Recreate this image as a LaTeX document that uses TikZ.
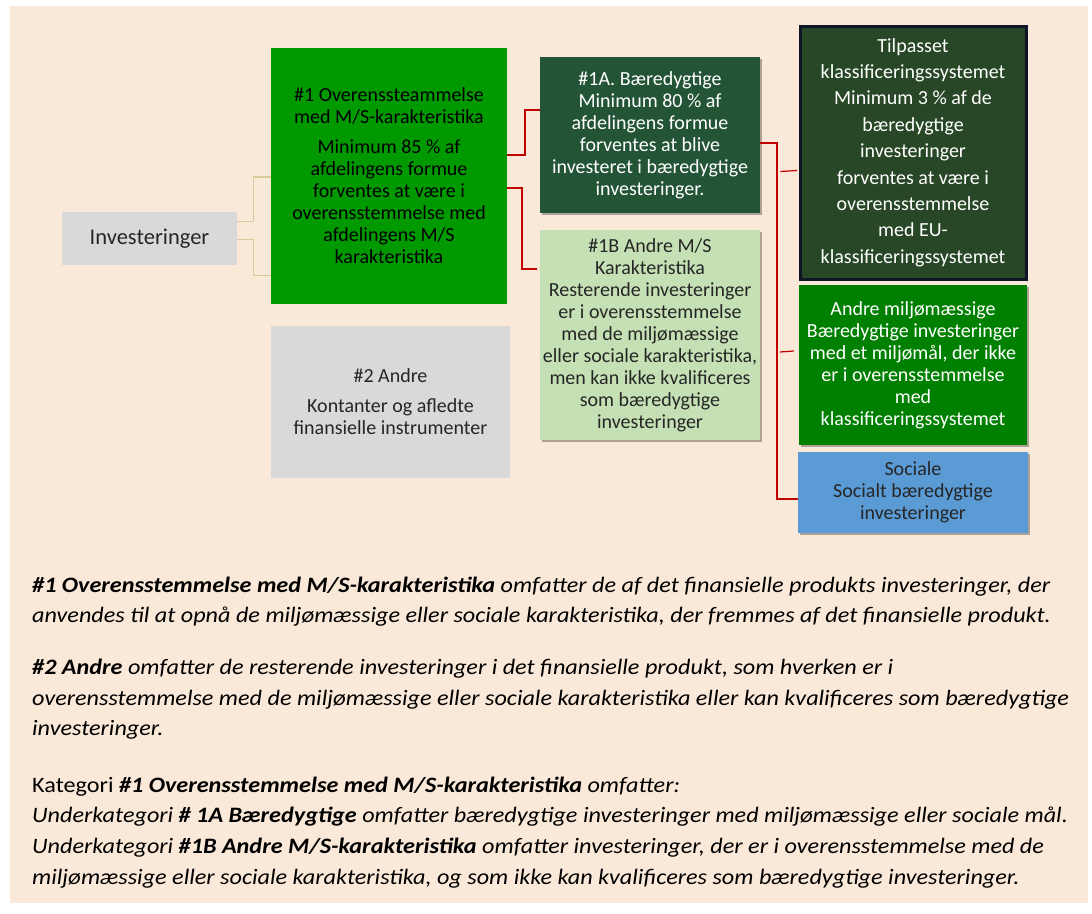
\documentclass[tikz,border=0pt]{standalone}
\usepackage{fontspec}
\setmainfont{Carlito}
\newfontfamily\parafont[FakeStretch=1.1]{Carlito}
\usetikzlibrary{calc,shadows}
\definecolor{beige}{HTML}{FAE8D8}
\definecolor{grayb}{HTML}{D9D9D9}
\definecolor{greenA}{HTML}{009900}
\definecolor{darkA}{HTML}{245436}
\definecolor{lightB}{HTML}{C5E0B4}
\definecolor{tilp}{HTML}{284726}
\definecolor{tilpborder}{HTML}{0D1526}
\definecolor{greenC}{HTML}{008000}
\definecolor{socblue}{HTML}{5B9BD5}
\definecolor{tanline}{HTML}{D8CB9A}
\definecolor{redline}{HTML}{C00000}
\definecolor{darktext}{HTML}{262626}
\newcommand\bitxt[1]{\textbf{\textit{#1}}}
\begin{document}
\begin{tikzpicture}[x=1pt,y=-1pt,
  box/.style={draw=none, rectangle, inner sep=0pt, align=center, font=\fontsize{20}{22}\selectfont},
  shad/.style={drop shadow={shadow xshift=1.5pt, shadow yshift=-2pt, opacity=0.3, fill=black}},
  tanl/.style={draw=tanline, line width=1.2pt},
  redl/.style={draw=redline, line width=1.5pt},
  para/.style={anchor=base west, inner sep=0pt, font=\parafont\fontsize{22}{26}\selectfont, text=black}
]
\useasboundingbox (0,0) rectangle (1092,913);
\fill[white] (0,0) rectangle (1092,913);
\fill[beige] (10,6) rectangle (1088,903);

% boxes
\node[box, fill=grayb, minimum width=175pt, minimum height=53pt, text=darktext,
  font=\fontsize{22.5}{24}\selectfont] (inv) at (149.5,238.5) {Investeringer};

\node[box, fill=greenA, minimum width=236pt, minimum height=256pt, text=black] (b1) at (389,176)
 {\#1 Overenssteammelse\\ med M/S-karakteristika\\[8pt] Minimum 85 \% af\\ afdelingens formue\\ forventes at være i\\ overensstemmelse med\\ afdelingens M/S\\ karakteristika};

\node[box, fill=grayb, minimum width=239pt, minimum height=152pt, text=darktext] (b2) at (390.5,402)
 {\#2 Andre\\[8pt] Kontanter og afledte\\ finansielle instrumenter};

\node[box, shad, fill=darkA, minimum width=220pt, minimum height=156pt, text=white] (b1a) at (650,135)
 {\#1A. Bæredygtige\\ Minimum 80 \% af\\ afdelingens formue\\ forventes at blive\\ investeret i bæredygtige\\ investeringer.};

\node[box, shad, fill=lightB, minimum width=220pt, minimum height=210pt, text=darktext] (b1b) at (650,335)
 {\#1B Andre M/S\\ Karakteristika\\ Resterende investeringer\\ er i overensstemmelse\\ med de miljømæssige\\ eller sociale karakteristika,\\ men kan ikke kvalificeres\\ som bæredygtige\\ investeringer};

\node[box, fill=tilp, draw=tilpborder, line width=3pt, minimum width=226pt, minimum height=253pt, text=white,
  font=\fontsize{20}{26.4}\selectfont] (tilp) at (913,152.5)
 {Tilpasset\\ klassificeringssystemet\\ Minimum 3 \% af de\\ bæredygtige\\ investeringer\\ forventes at være i\\ overensstemmelse\\ med EU-\\ klassificeringssystemet};

\node[box, shad, fill=greenC, minimum width=228pt, minimum height=160pt, text=white] (andre) at (913,365)
 {Andre miljømæssige\\ Bæredygtige investeringer\\ med et miljømål, der ikke\\ er i overensstemmelse\\ med\\ klassificeringssystemet};

\node[box, shad, fill=socblue, minimum width=230pt, minimum height=81pt, text=darktext] (soc) at (913,492.5)
 {Sociale\\ Socialt bæredygtige\\ investeringer};

% connectors
\draw[tanl] ($(inv.north east)+(0,10)$) -- ++(16,0) |- ($(b1.west)+(0,1)$);
\draw[tanl] ($(inv.east)+(0,1)$) -- ++(16,0) |- ($(b1.south west)+(0,-29)$);

\draw[redl] ($(b1.east)+(0,-21)$) -- ++(18,0) |- ($(b1a.west)+(0,-25)$);
\draw[redl] ($(b1.east)+(0,12)$) -- ++(15,0) |- ($(b1b.west)+(-3,-66)$);
\draw[redl] ($(b1a.east)+(0,8)$) -- ++(17,0) |- ($(soc.west)+(0,6.5)$);
\draw[redline, line width=1.2pt] ($(tilp.west)+(-18,19)$) -- ($(tilp.west)+(-1.5,18)$);
\draw[redline, line width=1.2pt] ($(andre.west)+(-19,-13)$) -- ($(andre.west)+(-5,-14)$);

% paragraphs
\node[para] (p1a) at (32,592) {\bitxt{\#1 Overensstemmelse med M/S-karakteristika} \textit{omfatter de af det finansielle produkts investeringer, der}};
\node[para] (p1b) at (32,622.5) {\textit{anvendes til at opnå de miljømæssige eller sociale karakteristika, der fremmes af det finansielle produkt.}};

\node[para] (p2a) at (32,674.5) {\bitxt{\#2 Andre} \textit{omfatter de resterende investeringer i det finansielle produkt, som hverken er i}};
\node[para] (p2b) at (32,705) {\textit{overensstemmelse med de miljømæssige eller sociale karakteristika eller kan kvalificeres som bæredygtige}};
\node[para] (p2c) at (32,735.5) {\textit{investeringer.}};

\node[para] (p3a) at (32,792) {Kategori \bitxt{\#1 Overensstemmelse med M/S-karakteristika} \textit{omfatter:}};
\node[para] (p3b) at (32,822.7) {\textit{Underkategori} \bitxt{\# 1A Bæredygtige} \textit{omfatter bæredygtige investeringer med miljømæssige eller sociale mål.}};
\node[para] (p3c) at (32,853.3) {\textit{Underkategori} \bitxt{\#1B Andre M/S-karakteristika} \textit{omfatter investeringer, der er i overensstemmelse med de}};
\node[para] (p3d) at (32,884) {\textit{miljømæssige eller sociale karakteristika, og som ikke kan kvalificeres som bæredygtige investeringer.}};
\end{tikzpicture}
\end{document}
